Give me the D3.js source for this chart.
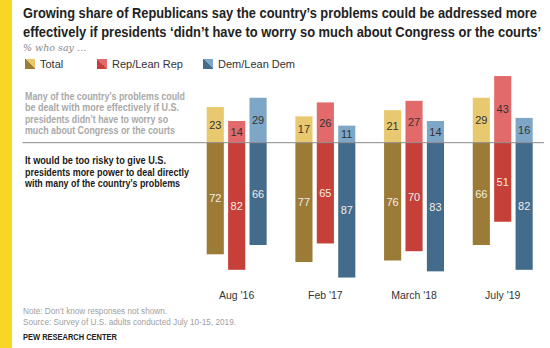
<!DOCTYPE html>
<html>
<head>
<meta charset="utf-8">
<script src="https://cdn.jsdelivr.net/npm/d3@7"></script>
<style>
  body { margin: 0; background: #fff; }
  svg { display: block; font-family: "Liberation Sans", Arial, sans-serif; }
</style>
</head>
<body>
<svg class="chart"></svg>
<script>
const width = 550, height = 348;

// data
const dates = ["Aug '16", "Feb '17", "March '18", "July '19"];
const series = ["Total", "Rep/Lean Rep", "Dem/Lean Dem"];
const couldDealTotal = [23, 17, 21, 29];
const couldDealRep = [14, 26, 27, 43];
const couldDealDem = [29, 11, 14, 16];
const tooRiskyTotal = [72, 77, 76, 66];
const tooRiskyRep = [82, 65, 70, 51];
const tooRiskyDem = [66, 87, 83, 82];

const lightColors = ["#e9c96f", "#e36a6a", "#7ea6c6"];
const darkColors = ["#9c7b37", "#c63f38", "#436b8b"];

const titleLines = [
  "Growing share of Republicans say the country\u2019s problems could be addressed more",
  "effectively if presidents \u2018didn\u2019t have to worry so much about Congress or the courts\u2019"
];
const upperText = [
  "Many of the country\u2019s problems could",
  "be dealt with more effectively if U.S.",
  "presidents didn\u2019t have to worry so",
  "much about Congress or the courts"
];
const lowerText = [
  "It would be too risky to give U.S.",
  "presidents more power to deal directly",
  "with many of the country\u2019s problems"
];

const up = [couldDealTotal, couldDealRep, couldDealDem];
const down = [tooRiskyTotal, tooRiskyRep, tooRiskyDem];

const rows = [];
dates.forEach((date, i) => {
  series.forEach((s, j) => {
    rows.push({date, s, j, up: up[j][i], down: down[j][i]});
  });
});

const svg = d3.select(".chart")
  .attr("width", width)
  .attr("height", height);

svg.append("rect")
  .attr("width", width).attr("height", height).attr("fill", "#fff");
// yellow strip on the left
svg.append("rect")
  .attr("x", 0).attr("y", 0).attr("width", 12).attr("height", height)
  .attr("fill", "#f9d624");

// title
svg.append("g")
  .selectAll("text")
  .data(titleLines)
  .enter().append("text")
    .attr("x", 23)
    .attr("y", (d, i) => 18 + i * 19)
    .attr("font-size", 15)
    .attr("font-weight", "bold")
    .attr("fill", "#222")
    .attr("textLength", (d, i) => i ? 518 : 514)
    .attr("lengthAdjust", "spacingAndGlyphs")
    .text(d => d);

svg.append("text")
  .attr("x", 23).attr("y", 51)
  .attr("font-family", "'DejaVu Serif', Georgia, serif")
  .attr("font-style", "italic")
  .attr("font-size", 9.5)
  .attr("fill", "#888")
  .text("% who say \u2026");

// legend
const legendX = [25, 97, 203];
const defs = svg.append("defs");
series.forEach((s, j) => {
  const grad = defs.append("linearGradient")
    .attr("id", "sw" + j)
    .attr("x1", 0).attr("y1", 1).attr("x2", 1).attr("y2", 0);
  grad.append("stop").attr("offset", "50%").attr("stop-color", darkColors[j]);
  grad.append("stop").attr("offset", "50%").attr("stop-color", lightColors[j]);
});
const legend = svg.append("g")
  .selectAll("g")
  .data(series)
  .enter().append("g")
    .attr("transform", (d, j) => `translate(${legendX[j]},59)`);
legend.append("rect")
  .attr("width", 10).attr("height", 10)
  .attr("fill", (d, j) => `url(#sw${j})`);
legend.append("text")
  .attr("x", 15).attr("y", 9)
  .attr("font-size", 11)
  .attr("fill", "#333")
  .text(d => d);

// side descriptions
svg.append("g")
  .selectAll("text")
  .data(upperText)
  .enter().append("text")
    .attr("x", 25)
    .attr("y", (d, i) => 99.5 + i * 11.5)
    .attr("font-size", 11)
    .attr("font-weight", "bold")
    .attr("fill", "#a9a9a9")
    .attr("textLength", (d, i) => [160, 154, 143, 150][i])
    .attr("lengthAdjust", "spacingAndGlyphs")
    .text(d => d);

svg.append("g")
  .selectAll("text")
  .data(lowerText)
  .enter().append("text")
    .attr("x", 25)
    .attr("y", (d, i) => 164 + i * 11.5)
    .attr("font-size", 11)
    .attr("font-weight", "bold")
    .attr("fill", "#1a1a1a")
    .attr("textLength", (d, i) => [141, 164, 155][i])
    .attr("lengthAdjust", "spacingAndGlyphs")
    .text(d => d);

// scales
const baseY = 142.7;
const x0 = d3.scaleBand().domain(dates).range([206.7, 532.7]).paddingInner(0.324).paddingOuter(0);
const x1 = d3.scaleBand().domain(series).range([0, x0.bandwidth()]).paddingInner(0.2);
const h = d3.scaleLinear().domain([0, 100]).range([0, 155]);

const bars = svg.append("g")
  .selectAll("g")
  .data(rows)
  .enter().append("g")
    .attr("transform", d => `translate(${x0(d.date) + x1(d.s)},0)`);

bars.append("rect")
  .attr("y", d => baseY - h(d.up))
  .attr("width", x1.bandwidth())
  .attr("height", d => h(d.up))
  .attr("fill", d => lightColors[d.j]);

bars.append("rect")
  .attr("y", baseY)
  .attr("width", x1.bandwidth())
  .attr("height", d => h(d.down))
  .attr("fill", d => darkColors[d.j]);

bars.append("text")
  .attr("x", x1.bandwidth() / 2)
  .attr("y", d => baseY - h(d.up) / 2)
  .attr("dy", "0.36em")
  .attr("text-anchor", "middle")
  .attr("font-size", 11)
  .attr("fill", "#333")
  .text(d => d.up);

bars.append("text")
  .attr("x", x1.bandwidth() / 2)
  .attr("y", d => baseY + h(d.down) / 2)
  .attr("dy", "0.36em")
  .attr("text-anchor", "middle")
  .attr("font-size", 11)
  .attr("fill", "#f3eee4")
  .text(d => d.down);

// zero line
svg.append("line")
  .attr("x1", 22.5).attr("x2", 544)
  .attr("y1", baseY).attr("y2", baseY)
  .attr("stroke", "#8a8a8a")
  .attr("stroke-width", 1);

// date labels
svg.append("g")
  .selectAll("text")
  .data(dates)
  .enter().append("text")
    .attr("x", d => x0(d) + x0.bandwidth() / 2)
    .attr("y", 299)
    .attr("text-anchor", "middle")
    .attr("font-size", 10.5)
    .attr("fill", "#333")
    .text(d => d);

// notes
svg.append("text")
  .attr("x", 23).attr("y", 313.5)
  .attr("font-size", 8.5).attr("fill", "#a0a0a0")
  .attr("textLength", 144).attr("lengthAdjust", "spacingAndGlyphs")
  .text("Note: Don\u2019t know responses not shown.");
svg.append("text")
  .attr("x", 23).attr("y", 324.5)
  .attr("font-size", 8.5).attr("fill", "#a0a0a0")
  .attr("textLength", 213).attr("lengthAdjust", "spacingAndGlyphs")
  .text("Source: Survey of U.S. adults conducted July 10-15, 2019.");
svg.append("text")
  .attr("x", 23).attr("y", 340)
  .attr("font-size", 9).attr("font-weight", "bold").attr("fill", "#222")
  .attr("textLength", 94).attr("lengthAdjust", "spacingAndGlyphs")
  .text("PEW RESEARCH CENTER");
</script>
</body>
</html>
